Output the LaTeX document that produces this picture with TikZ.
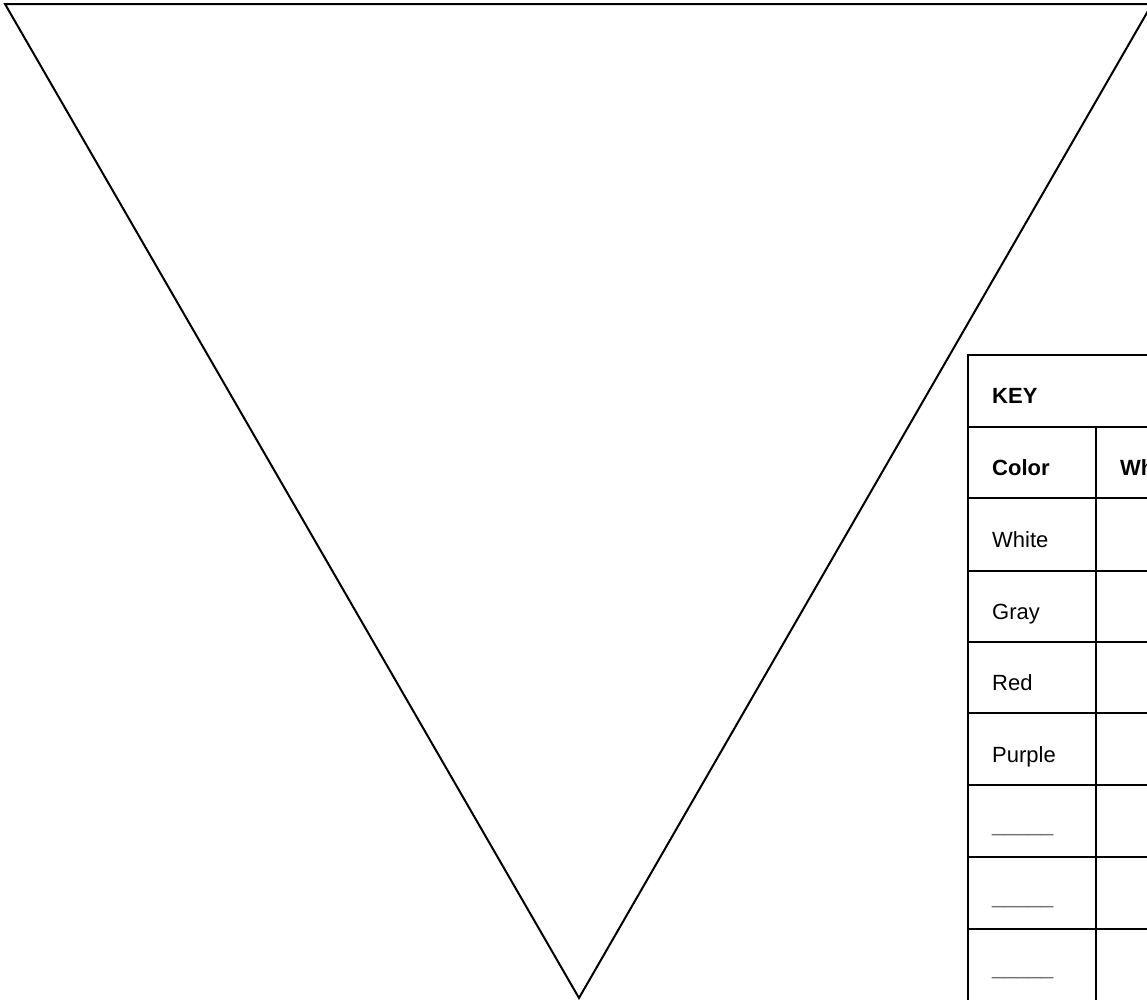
\documentclass[tikz,border=0pt]{standalone}
\usepackage{fontspec}
\setmainfont{Liberation Sans}
\begin{document}
\begin{tikzpicture}[x=1pt,y=-1pt,
  edge/.style={draw=black,line width=2pt,line join=miter},
  grid/.style={draw=black,line width=2.8pt},
  celltext/.style={anchor=base west,inner sep=0pt,font=\fontsize{22}{26}\selectfont},
  headtext/.style={celltext,font=\fontsize{22}{26}\selectfont\bfseries},
  blank/.style={celltext,text=black!55}]
\useasboundingbox (0,0) rectangle (1147,999);
\clip (0,0) rectangle (1147,999);
% triangle
\coordinate (tl) at (5,4);
\coordinate (tr) at (1152,4);
\coordinate (bt) at (579,998);
\draw[edge] (tl) -- (tr) -- (bt) -- cycle;
% table
\fill[white] (968,355) rectangle (1160,1010);
\draw[grid] (968,1010) -- (968,355) -- (1160,355);
\foreach \y in {427,498,571,642,713,785,857,929}
  \draw[grid] (968,\y) -- (1160,\y);
\draw[grid] (1096,427) -- (1096,1010);
\node[headtext] (key) at (992,403) {KEY};
\node[headtext] (color) at (992,475) {Color};
\node[headtext] (what) at (1120,475) {What};
\node[celltext] (white) at (992,547) {White};
\node[celltext] (gray) at (992,619) {Gray};
\node[celltext] (red) at (992,690) {Red};
\node[celltext] (purple) at (992,762) {Purple};
\node[blank] (b1) at (992,831) {\_\_\_\_\_};
\node[blank] (b2) at (992,903) {\_\_\_\_\_};
\node[blank] (b3) at (992,974) {\_\_\_\_\_};
\end{tikzpicture}
\end{document}
